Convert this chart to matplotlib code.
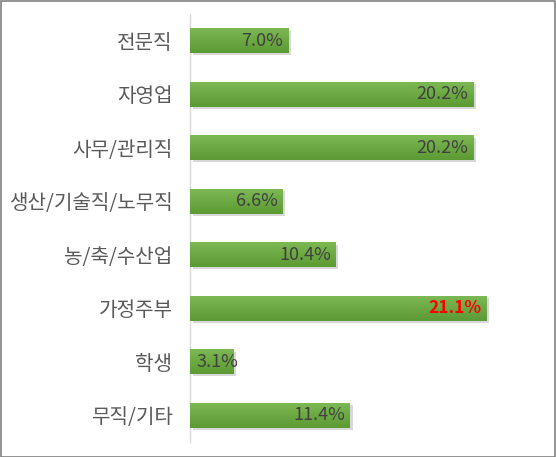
import numpy as np
import matplotlib
matplotlib.use("Agg")
import matplotlib.pyplot as plt
import matplotlib.patheffects as pe
from matplotlib.colors import LinearSegmentedColormap

plt.rcParams['font.family'] = ['Noto Sans CJK KR', 'DejaVu Sans']

categories = ['전문직', '자영업', '사무/관리직', '생산/기술직/노무직',
              '농/축/수산업', '가정주부', '학생', '무직/기타']
values = [7.0, 20.2, 20.2, 6.6, 10.4, 21.1, 3.1, 11.4]
highlight = '가정주부'

fig = plt.figure(figsize=(5.56, 4.57), dpi=100)
ax = fig.add_axes([0.3426, 0.0328, 0.6056, 0.9365])

ypos = np.arange(len(categories))
bars = ax.barh(ypos, values, height=0.46, color='#6aa83f', edgecolor='none',
               zorder=2)

# shadow + vertical gradient on each bar
grad = LinearSegmentedColormap.from_list('g', ['#7cb853', '#5c9a33'])
for b in bars:
    b.set_path_effects([pe.SimplePatchShadow(offset=(1.5, -1.5), shadow_rgbFace='#909090',
                                             alpha=0.35), pe.Normal()])
    x0, y0 = b.get_x(), b.get_y()
    w, h = b.get_width(), b.get_height()
    im = ax.imshow(np.linspace(0, 1, 50).reshape(-1, 1), cmap=grad, aspect='auto',
                   extent=[x0, x0 + w, y0 + h, y0], origin='upper', zorder=3)
    im.set_clip_path(b)

for i, (cat, v) in enumerate(zip(categories, values)):
    # short bars: label can't fit inside end, so start it at the bar base
    if v < 4:
        x, ha = 0.45, 'left'
    else:
        x, ha = v - 0.4, 'right'
    if cat == highlight:
        ax.text(x, i, f'{v:.1f}%', ha=ha, va='center', fontsize=12.5,
                color='#ff0000', fontweight='bold', zorder=4)
    else:
        ax.text(x, i, f'{v:.1f}%', ha=ha, va='center', fontsize=13,
                color='#404040', zorder=4)

ax.set_xlim(0, 24)
ax.set_ylim(len(categories) - 0.5, -0.5)
ax.set_yticks(ypos)
ax.set_yticklabels(categories, fontsize=14.5, color='#595959')
ax.tick_params(axis='y', length=0, pad=13)
ax.set_xticks([])
for s in ['top', 'right', 'bottom']:
    ax.spines[s].set_visible(False)
ax.spines['left'].set_color('#d9d9d9')
ax.spines['left'].set_linewidth(1)

# outer chart border
fig.patches.append(plt.Rectangle((0.001, 0.001), 0.997, 0.997, transform=fig.transFigure,
                                 fill=False, edgecolor='#808080', linewidth=1.2))

fig.savefig('out.png', dpi=100)
